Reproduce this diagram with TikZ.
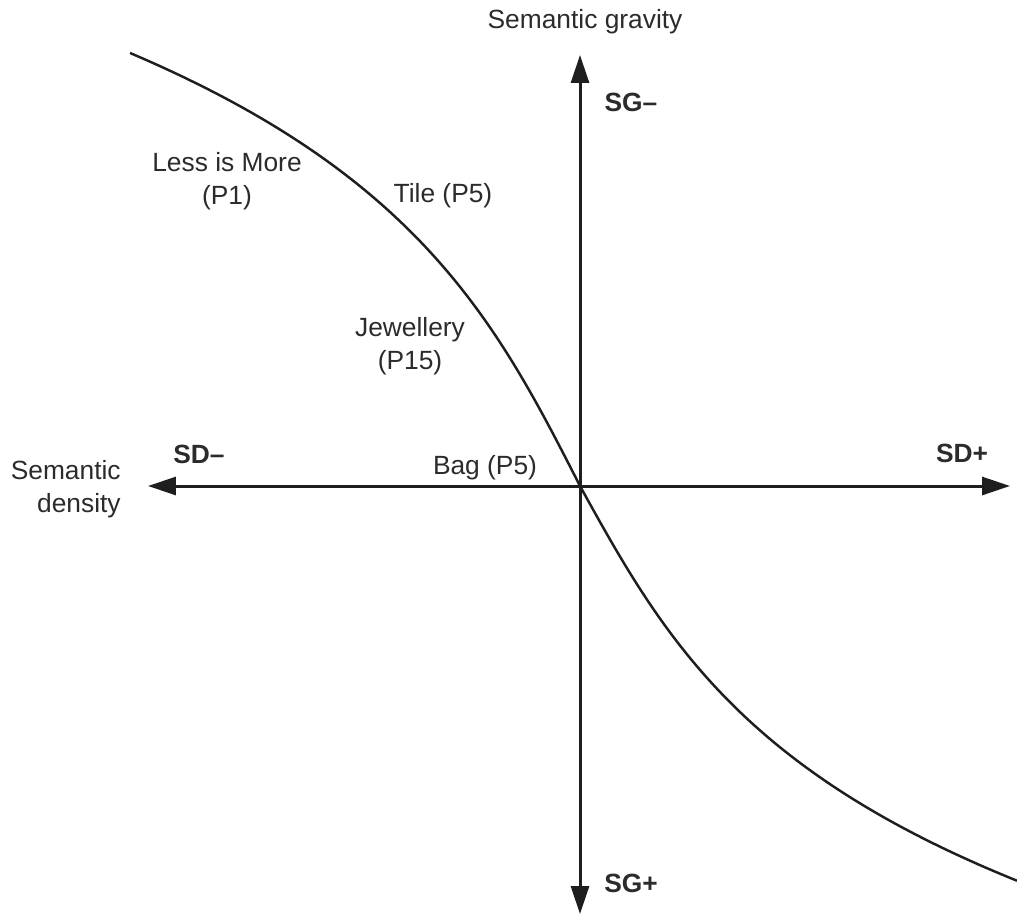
\documentclass[tikz,border=0pt]{standalone}
\usepackage{fontspec}
\setmainfont{Liberation Sans}
\usepackage{tikz}
\usetikzlibrary{arrows.meta,positioning}
\definecolor{Ink}{HTML}{1E1E1E}
\definecolor{Label}{HTML}{2B2B2B}

\begin{document}
\begin{tikzpicture}[x=0.02cm,y=-0.02cm,font=\fontsize{15}{19}\selectfont,
  declare function={arsh(\t)=ln(\t+sqrt(\t*\t+1));},
  axisline/.style={line width=1.7pt,draw=Ink,{Triangle[length=0.56cm,width=0.36cm]}-{Triangle[length=0.56cm,width=0.36cm]}},
  curveline/.style={line width=1.4pt,draw=Ink,line join=round},
  lbl/.style={text=Label,inner sep=0pt,align=center},
  pole/.style={text=Label,inner sep=0pt,font=\fontsize{15}{19}\selectfont\bfseries}]
  \useasboundingbox (0,0) rectangle (1017,916);

  \coordinate (o) at (580,486);
  \coordinate (sgtop) at (580,55);
  \coordinate (sgbot) at (580,914);
  \coordinate (sdleft) at (148,486);
  \coordinate (sdright) at (1010,486);

  \draw[axisline] (sgbot) -- (sgtop);
  \draw[axisline] (sdleft) -- (sdright);

  \draw[curveline] plot[domain=450:0,samples=90,smooth] ({580-\x},{486-196*arsh(\x/100)})
    -- plot[domain=0:437,samples=90,smooth] ({580+\x},{486+181*arsh(\x/100)});

  \node[lbl] (gravity) at (585,22) {Semantic gravity};
  \node[lbl,align=right,anchor=east] (density) at (121,489) {Semantic\\density};
  \node[pole] (sgminus) at (631,102) {SG–};
  \node[pole] (sgplus) at (631,883) {SG+};
  \node[pole] (sdminus) at (199,454) {SD–};
  \node[pole] (sdplus) at (962,453) {SD+};

  \node[lbl] (lessmore) at (227,181) {Less is More\\(P1)};
  \node[lbl] (tile) at (443,196) {Tile (P5)};
  \node[lbl] (jewel) at (410,346) {Jewellery\\(P15)};
  \node[lbl] (bag) at (485,468) {Bag (P5)};
\end{tikzpicture}
\end{document}
